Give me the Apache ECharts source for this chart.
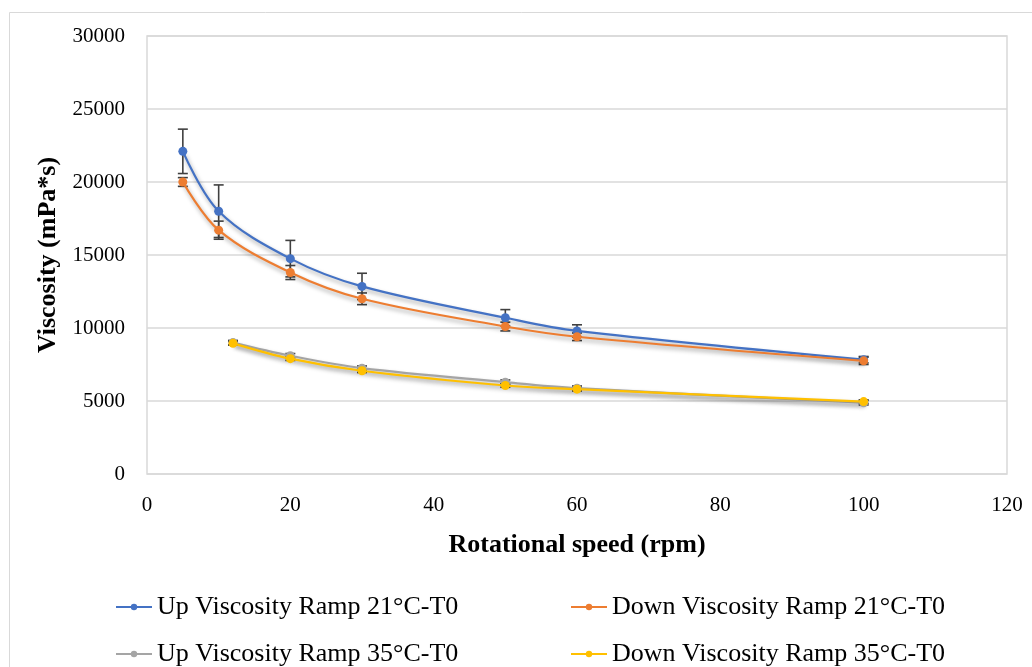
<!DOCTYPE html>
<html>
<head>
<meta charset="utf-8">
<script src="https://cdn.jsdelivr.net/npm/echarts@6/dist/echarts.min.js"></script>
<style>
  html, body { margin: 0; padding: 0; background: #ffffff; }
  #chart { width: 1032px; height: 667px; }
</style>
</head>
<body>
<div id="chart"></div>
<script>
// Rotational speeds (rpm)
const speed21 = [5, 10, 20, 30, 50, 60, 100];
const speed35 = [12, 20, 30, 50, 60, 100];

// Viscosity (mPa*s)
const up21 = [22100, 18000, 14750, 12850, 10700, 9800, 7830];
const down21 = [20000, 16700, 13800, 12000, 10100, 9400, 7750];
const up35 = [9000, 8100, 7250, 6290, 5880, 4880];
const down35 = [8950, 7900, 7070, 6060, 5810, 4960];

// Standard deviations
const upErr21 = [1520, 1800, 1250, 900, 560, 420, 220];
const downErr21 = [300, 620, 480, 400, 300, 260, 250];
const upErr35 = [150, 150, 150, 150, 150, 150];
const downErr35 = [120, 120, 120, 120, 120, 120];

const yTicks = [0, 5000, 10000, 15000, 20000, 25000, 30000];
const xTicks = [0, 20, 40, 60, 80, 100, 120];

const names = [
  'Up Viscosity Ramp 21°C-T0',
  'Down Viscosity Ramp 21°C-T0',
  'Up Viscosity Ramp 35°C-T0',
  'Down Viscosity Ramp 35°C-T0'
];
const colors = ['#4472c4', '#ed7d31', '#a5a5a5', '#ffc000'];

const serif = '"Liberation Serif", "DejaVu Serif", serif';

function pairs(xs, ys) { return xs.map((x, i) => [x, ys[i]]); }
function errRows(xs, ys, es) { return xs.map((x, i) => [x, ys[i] - es[i], ys[i] + es[i]]); }

function errorSeries(xs, ys, es) {
  return {
    type: 'custom',
    z: 1,
    silent: true,
    data: errRows(xs, ys, es),
    encode: { x: 0, y: [1, 2] },
    renderItem: function (params, api) {
      const lo = api.coord([api.value(0), api.value(1)]);
      const hi = api.coord([api.value(0), api.value(2)]);
      const w = 5;
      const style = { stroke: '#404040', lineWidth: 1.6 };
      return {
        type: 'group',
        children: [
          { type: 'line', shape: { x1: lo[0], y1: lo[1], x2: hi[0], y2: hi[1] }, style: style },
          { type: 'line', shape: { x1: lo[0] - w, y1: lo[1], x2: lo[0] + w, y2: lo[1] }, style: style },
          { type: 'line', shape: { x1: hi[0] - w, y1: hi[1], x2: hi[0] + w, y2: hi[1] }, style: style }
        ]
      };
    }
  };
}

function lineSeries(name, color, xs, ys) {
  return {
    name: name,
    type: 'line',
    z: 3,
    smooth: 0.35,
    symbol: 'circle',
    symbolSize: 9,
    data: pairs(xs, ys),
    itemStyle: { color: color },
    lineStyle: {
      color: color, width: 2.2,
      shadowColor: 'rgba(0,0,0,0.35)', shadowBlur: 4, shadowOffsetX: 1.5, shadowOffsetY: 3
    }
  };
}

function legendAt(i, left, top) {
  return {
    data: [names[i]],
    left: left, top: top,
    padding: 0,
    itemWidth: 36, itemHeight: 8, itemGap: 0,
    textStyle: { fontFamily: serif, fontSize: 26, color: '#000' },
    selectedMode: false
  };
}

const plain = v => String(v);

const chart = echarts.init(document.getElementById('chart'), null, { renderer: 'canvas' });
chart.setOption({
  backgroundColor: '#ffffff',
  animation: false,
  graphic: [{
    type: 'rect', silent: true, z: -1,
    shape: { x: 9.5, y: 12.5, width: 1100, height: 800 },
    style: { fill: 'none', stroke: '#d9d9d9', lineWidth: 1 }
  }],
  grid: { left: 147, right: 25, top: 36, bottom: 193, show: true, borderColor: '#d9d9d9', borderWidth: 1.5 },
  legend: [
    legendAt(0, 115, 594),
    legendAt(1, 570, 594),
    legendAt(2, 115, 641),
    legendAt(3, 570, 641)
  ],
  xAxis: {
    type: 'value',
    min: xTicks[0], max: xTicks[xTicks.length - 1], interval: 20,
    name: 'Rotational speed (rpm)',
    nameLocation: 'middle', nameGap: 58,
    nameTextStyle: { fontFamily: serif, fontSize: 26, fontWeight: 'bold', color: '#000' },
    axisLine: { show: false },
    axisTick: { show: false },
    splitLine: { show: false },
    axisLabel: { fontFamily: serif, fontSize: 21, color: '#000', margin: 21, formatter: plain }
  },
  yAxis: {
    type: 'value',
    min: yTicks[0], max: yTicks[yTicks.length - 1], interval: 5000,
    name: 'Viscosity (mPa*s)',
    nameLocation: 'middle', nameGap: 86,
    nameTextStyle: { fontFamily: serif, fontSize: 26, fontWeight: 'bold', color: '#000' },
    axisLine: { show: false },
    axisTick: { show: false },
    splitLine: { lineStyle: { color: '#d9d9d9', width: 1.5 } },
    axisLabel: { fontFamily: serif, fontSize: 21, color: '#000', margin: 22, formatter: plain }
  },
  series: [
    errorSeries(speed21, up21, upErr21),
    errorSeries(speed21, down21, downErr21),
    errorSeries(speed35, up35, upErr35),
    errorSeries(speed35, down35, downErr35),
    lineSeries(names[0], colors[0], speed21, up21),
    lineSeries(names[1], colors[1], speed21, down21),
    lineSeries(names[2], colors[2], speed35, up35),
    lineSeries(names[3], colors[3], speed35, down35)
  ]
});
</script>
</body>
</html>
